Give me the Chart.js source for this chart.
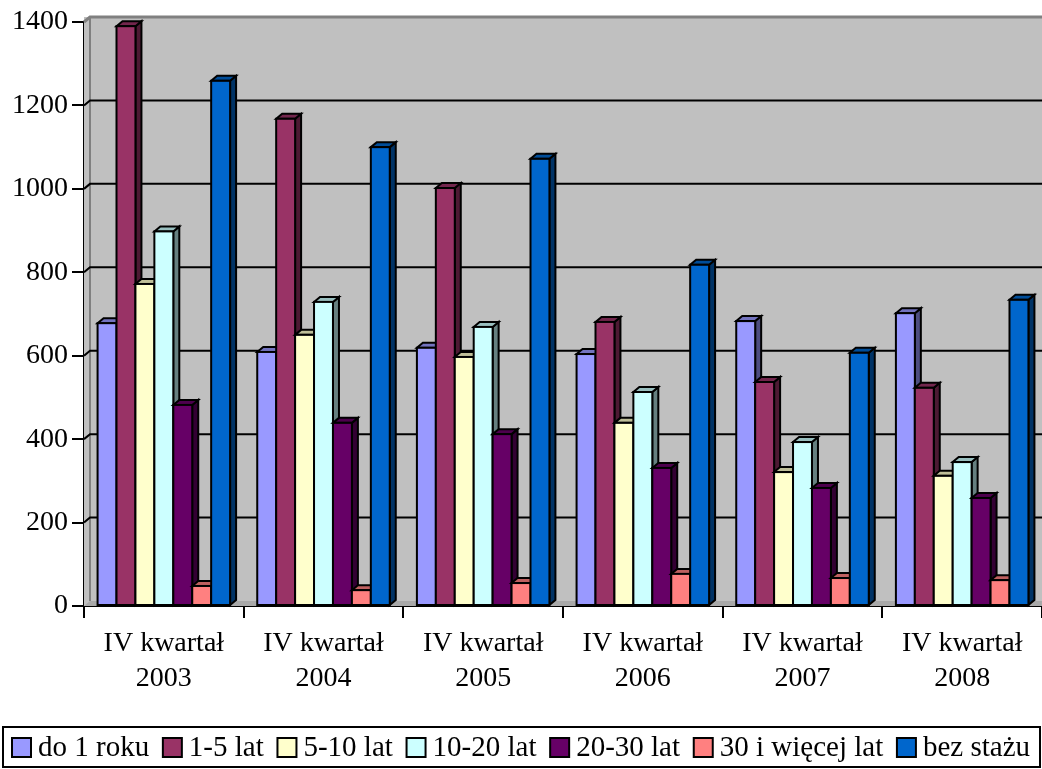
<!DOCTYPE html>
<html><head><meta charset="utf-8">
<script src="https://cdn.jsdelivr.net/npm/chart.js@4"></script>
<style>html,body{margin:0;padding:0;background:#fff}#wrap{width:1042px;height:769px;position:relative}</style>
</head><body>
<div id="wrap"><canvas id="c"></canvas></div>
<script>
const categories = [['IV kwartał','2003'],['IV kwartał','2004'],['IV kwartał','2005'],['IV kwartał','2006'],['IV kwartał','2007'],['IV kwartał','2008']];
const seriesNames = ['do 1 roku','1-5 lat','5-10 lat','10-20 lat','20-30 lat','30 i więcej lat','bez stażu'];
const do1Roku   = [678, 609, 619, 604, 683, 702];
const lat1do5   = [1390, 1168, 1002, 681, 537, 523];
const lat5do10  = [772, 650, 597, 439, 321, 312];
const lat10do20 = [898, 729, 669, 513, 393, 345];
const lat20do30 = [482, 439, 412, 331, 283, 259];
const lat30plus = [48, 38, 55, 77, 67, 62];
const bezStazu  = [1259, 1100, 1072, 818, 607, 734];
const yTicks = [0, 200, 400, 600, 800, 1000, 1200, 1400];
const colors = ['#9999FF','#993366','#FFFFCC','#CCFFFF','#660066','#FF8080','#0066CC'];
const seriesValues = [do1Roku, lat1do5, lat5do10, lat10do20, lat20do30, lat30plus, bezStazu];

const DX = 6, DY = -5;
const FONT = '"Liberation Serif", "Times New Roman", serif';

function shade(hex, f){
  const n = parseInt(hex.slice(1),16);
  const r = Math.round(((n>>16)&255)*f), g = Math.round(((n>>8)&255)*f), b = Math.round((n&255)*f);
  return 'rgb('+r+','+g+','+b+')';
}

const wallPlugin = {
  id:'wall',
  beforeDatasetsDraw(chart){
    const {ctx, chartArea:a, scales} = chart;
    const y = scales.y;
    ctx.save();
    ctx.fillStyle = '#C0C0C0';
    ctx.fillRect(a.left, a.top+DY, a.right-a.left, a.bottom-a.top-DY);
    ctx.fillStyle = '#A8A8A8';
    ctx.beginPath();
    ctx.moveTo(a.left, a.bottom); ctx.lineTo(a.left+DX, a.bottom+DY);
    ctx.lineTo(a.right, a.bottom+DY); ctx.lineTo(a.right, a.bottom); ctx.closePath(); ctx.fill();
    ctx.strokeStyle = '#808080'; ctx.lineWidth = 2;
    ctx.beginPath();
    ctx.moveTo(a.left+DX, a.bottom+DY); ctx.lineTo(a.left+DX, a.top+DY);
    ctx.stroke();
    ctx.beginPath();
    ctx.moveTo(a.left, a.top); ctx.lineTo(a.left+DX, a.top+DY); ctx.lineTo(a.right, a.top+DY);
    ctx.lineWidth = 3; ctx.stroke();
    ctx.strokeStyle = '#000'; ctx.lineWidth = 2;
    yTicks.forEach(v => {
      if (v === 0 || v === 1400) return;
      const py = y.getPixelForValue(v) + DY;
      ctx.beginPath(); ctx.moveTo(a.left, py - DY); ctx.lineTo(a.left+DX, py); ctx.lineTo(a.right, py); ctx.stroke();
    });
    ctx.restore();
  },
  afterDatasetsDraw(chart){
    const ctx = chart.ctx;
    ctx.save();
    ctx.lineWidth = 2; ctx.strokeStyle = '#000'; ctx.lineJoin = 'miter';
    const n = chart.data.labels.length;
    for (let j=0;j<n;j++){
      for (let i=0;i<chart.data.datasets.length;i++){
        const el = chart.getDatasetMeta(i).data[j];
        const col = colors[i];
        const x0 = el.x - el.width/2, x1 = el.x + el.width/2, yt = el.y, yb = el.base;
        ctx.fillStyle = shade(col, 0.5);
        ctx.beginPath();
        ctx.moveTo(x1,yb); ctx.lineTo(x1+DX,yb+DY); ctx.lineTo(x1+DX,yt+DY); ctx.lineTo(x1,yt); ctx.closePath();
        ctx.fill(); ctx.stroke();
        ctx.fillStyle = shade(col, 0.75);
        ctx.beginPath();
        ctx.moveTo(x0,yt); ctx.lineTo(x0+DX,yt+DY); ctx.lineTo(x1+DX,yt+DY); ctx.lineTo(x1,yt); ctx.closePath();
        ctx.fill(); ctx.stroke();
        ctx.fillStyle = col;
        ctx.fillRect(x0,yt,x1-x0,yb-yt);
        ctx.strokeRect(x0,yt,x1-x0,yb-yt);
      }
    }
    ctx.restore();
  },
  afterDraw(chart){
    const ctx = chart.ctx;
    ctx.save();
    ctx.fillStyle = '#fff';
    ctx.strokeStyle = '#000'; ctx.lineWidth = 2;
    ctx.fillRect(3, 727, 1037, 40);
    ctx.strokeRect(3, 727, 1037, 40);
    ctx.font = '29px ' + FONT;
    ctx.textBaseline = 'middle';
    const widths = seriesNames.map(s => ctx.measureText(s).width);
    const sw = 19, g1 = 7;
    const total = widths.reduce((a,b)=>a+b,0) + seriesNames.length*(sw+g1);
    const g2 = Math.max(6, (1030 - 12 - total)/(seriesNames.length-1));
    let x = 12;
    seriesNames.forEach((s, i) => {
      ctx.fillStyle = colors[i];
      ctx.fillRect(x, 738, sw, sw);
      ctx.strokeRect(x, 738, sw, sw);
      ctx.fillStyle = '#000';
      ctx.fillText(s, x + sw + g1, 748);
      x += sw + g1 + widths[i] + g2;
    });
    ctx.restore();
  }
};

new Chart(document.getElementById('c'), {
  type:'bar',
  data:{
    labels: categories,
    datasets: seriesNames.map((name,i)=>({
      label:name, data: seriesValues[i], backgroundColor: colors[i], borderWidth:0,
      categoryPercentage:0.83, barPercentage:1.0
    }))
  },
  options:{
    responsive:true, maintainAspectRatio:false, animation:false,
    layout:{padding:{top:22,right:0,bottom:49,left:0}},
    plugins:{legend:{display:false}, tooltip:{enabled:false}},
    scales:{
      x:{
        grid:{display:true, drawOnChartArea:false, drawTicks:true, tickLength:12, color:'#000', lineWidth:2, offset:true},
        border:{display:true, color:'#000', width:2},
        ticks:{color:'#000', font:{family:FONT, size:28, lineHeight:1.25}, padding:8, maxRotation:0, autoSkip:false},
        afterFit(s){ s.height = 114; }
      },
      y:{
        min:0, max:1400,
        afterBuildTicks(s){ s.ticks = yTicks.map(v=>({value:v})); },
        grid:{display:true, drawOnChartArea:false, drawTicks:true, tickLength:12, color:'#000', lineWidth:2},
        border:{display:true, color:'#000', width:2},
        ticks:{color:'#000', font:{family:FONT, size:28}, padding:4, callback:(v)=>String(v)},
        afterFit(s){ s.width = 84; }
      }
    }
  },
  plugins:[wallPlugin]
});
</script>
</body></html>
